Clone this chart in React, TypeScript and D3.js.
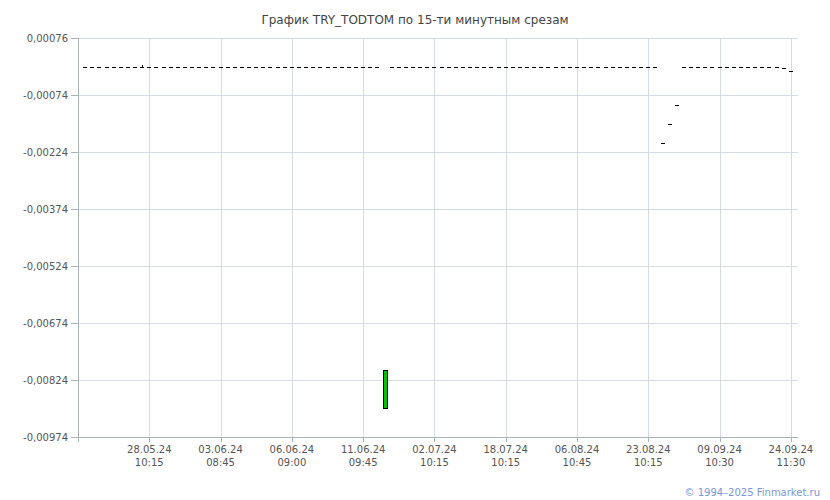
import React from "react";
import * as d3 from "d3";

const TITLE = "График TRY_TODTOM по 15-ти минутным срезам";
const COPYRIGHT = "© 1994–2025 Finmarket.ru";

// candle index -> values (100 fifteen-minute candles)
const opens = [
  0, 0, 0, 0, 0, 0, 0, 0, 0, 0,
  0, 0, 0, 0, 0, 0, 0, 0, 0, 0,
  0, 0, 0, 0, 0, 0, 0, 0, 0, 0,
  0, 0, 0, 0, 0, 0, 0, 0, 0, 0,
  0, 0, -0.00898, 0, 0, 0, 0, 0, 0, 0,
  0, 0, 0, 0, 0, 0, 0, 0, 0, 0,
  0, 0, 0, 0, 0, 0, 0, 0, 0, 0,
  0, 0, 0, 0, 0, 0, 0, 0, 0, 0,
  0, -0.00201, -0.0015, -0.001, 0, 0, 0, 0, 0, 0,
  0, 0, 0, 0, 0, 0, 0, 0, -0.00004, -0.00011,
];
const closes = [
  0, 0, 0, 0, 0, 0, 0, 0, 0, 0,
  0, 0, 0, 0, 0, 0, 0, 0, 0, 0,
  0, 0, 0, 0, 0, 0, 0, 0, 0, 0,
  0, 0, 0, 0, 0, 0, 0, 0, 0, 0,
  0, 0, -0.00798, 0, 0, 0, 0, 0, 0, 0,
  0, 0, 0, 0, 0, 0, 0, 0, 0, 0,
  0, 0, 0, 0, 0, 0, 0, 0, 0, 0,
  0, 0, 0, 0, 0, 0, 0, 0, 0, 0,
  0, -0.00201, -0.0015, -0.001, 0, 0, 0, 0, 0, 0,
  0, 0, 0, 0, 0, 0, 0, 0, -0.00004, -0.00011,
];
const highs = [
  0, 0, 0, 0, 0, 0, 0, 0, 0.00006, 0,
  0, 0, 0, 0, 0, 0, 0, 0, 0, 0,
  0, 0, 0, 0, 0, 0, 0, 0, 0, 0,
  0, 0, 0, 0, 0, 0, 0, 0, 0, 0,
  0, 0, -0.00798, 0, 0, 0, 0, 0, 0, 0,
  0, 0, 0, 0, 0, 0, 0, 0, 0, 0,
  0, 0, 0, 0, 0, 0, 0, 0, 0, 0,
  0, 0, 0, 0, 0, 0, 0, 0, 0, 0,
  0, -0.00201, -0.0015, -0.001, 0, 0, 0, 0, 0, 0,
  0, 0, 0, 0, 0, 0, 0, 0, -0.00004, -0.00011,
];
const lows = [
  0, 0, 0, 0, 0, 0, 0, 0, 0, 0,
  0, 0, 0, 0, 0, 0, 0, 0, 0, 0,
  0, 0, 0, 0, 0, 0, 0, 0, 0, 0,
  0, 0, 0, 0, 0, 0, 0, 0, 0, 0,
  0, 0, -0.00898, 0, 0, 0, 0, 0, 0, 0,
  0, 0, 0, 0, 0, 0, 0, 0, 0, 0,
  0, 0, 0, 0, 0, 0, 0, 0, 0, 0,
  0, 0, 0, 0, 0, 0, 0, 0, 0, 0,
  0, -0.00201, -0.0015, -0.001, 0, 0, 0, 0, 0, 0,
  0, 0, 0, 0, 0, 0, 0, 0, -0.00004, -0.00011,
];

const xTickIndex = [9, 19, 29, 39, 49, 59, 69, 79, 89, 99];
const xTickDates = ["28.05.24", "03.06.24", "06.06.24", "11.06.24", "02.07.24", "18.07.24", "06.08.24", "23.08.24", "09.09.24", "24.09.24"];
const xTickTimes = ["10:15", "08:45", "09:00", "09:45", "10:15", "10:15", "10:45", "10:15", "10:30", "11:30"];
const yTicks = [0.00076, -0.00074, -0.00224, -0.00374, -0.00524, -0.00674, -0.00824, -0.00974];

const W = 830;
const H = 500;
const FONT = "'DejaVu Sans', Verdana, sans-serif";

export default function App() {
  const x = d3.scaleLinear().domain([-1, opens.length]).range([78, 798]);
  const y = d3.scaleLinear().domain([-0.00974, 0.00076]).range([437, 38]);
  const fmt = (v: number) => d3.format(".5f")(v).replace(".", ",").replace("−", "-");
  const grid = "#d5dbe1";
  const axis = "#aab2ba";
  const candles = opens.map((o, i) => ({ i, o, c: closes[i], h: highs[i], l: lows[i] }));

  return (
    <svg width={W} height={H} style={{ position: "absolute", left: 0, top: 0, background: "#fff" }} fontFamily={FONT}>
      <text x={415} y={24} textAnchor="middle" fontSize={12} fill="#444">{TITLE}</text>
      {yTicks.map((t) => (
        <line key={"gy" + t} x1={78} x2={798} y1={Math.round(y(t)) + 0.5} y2={Math.round(y(t)) + 0.5} stroke={grid} />
      ))}
      {xTickIndex.map((t) => (
        <line key={"gx" + t} x1={Math.round(x(t)) + 0.5} x2={Math.round(x(t)) + 0.5} y1={38} y2={437} stroke={grid} />
      ))}
      <line x1={78.5} x2={78.5} y1={38} y2={442} stroke={axis} />
      <line x1={73} x2={798} y1={437.5} y2={437.5} stroke={axis} />
      {yTicks.map((t) => (
        <g key={"ty" + t}>
          <line x1={71} x2={78} y1={Math.round(y(t)) + 0.5} y2={Math.round(y(t)) + 0.5} stroke={axis} />
          <text x={68} y={y(t) + 3.5} textAnchor="end" fontSize={10} fill="#555">{fmt(t)}</text>
        </g>
      ))}
      {xTickIndex.map((t, k) => (
        <g key={"tx" + t}>
          <line x1={Math.round(x(t)) + 0.5} x2={Math.round(x(t)) + 0.5} y1={437} y2={442} stroke={axis} />
          <text x={x(t)} y={453} textAnchor="middle" fontSize={10} fill="#555">{xTickDates[k]}</text>
          <text x={x(t)} y={466} textAnchor="middle" fontSize={10} fill="#555">{xTickTimes[k]}</text>
        </g>
      ))}
      {candles.map((d) => {
        const cx = x(d.i);
        const top = Math.round(y(Math.max(d.o, d.c)));
        const bot = Math.round(y(Math.min(d.o, d.c)));
        const flat = bot - top < 1;
        const up = d.c > d.o;
        return (
          <g key={"c" + d.i}>
            {d.h > Math.max(d.o, d.c) && (
              <line x1={Math.round(cx) + 0.5} x2={Math.round(cx) + 0.5} y1={Math.round(y(d.h))} y2={top} stroke="#000" />
            )}
            {flat ? (
              <rect x={Math.round(cx) - 2} y={top} width={4} height={1} fill="#000" />
            ) : (
              <rect x={Math.round(cx) - 1.5} y={top + 0.5} width={4} height={bot - top} fill={up ? "#00c000" : "#e00000"} stroke="#000" />
            )}
          </g>
        );
      })}
      <text x={820} y={496} textAnchor="end" fontSize={10} fill="#7a96e0">{COPYRIGHT}</text>
    </svg>
  );
}
